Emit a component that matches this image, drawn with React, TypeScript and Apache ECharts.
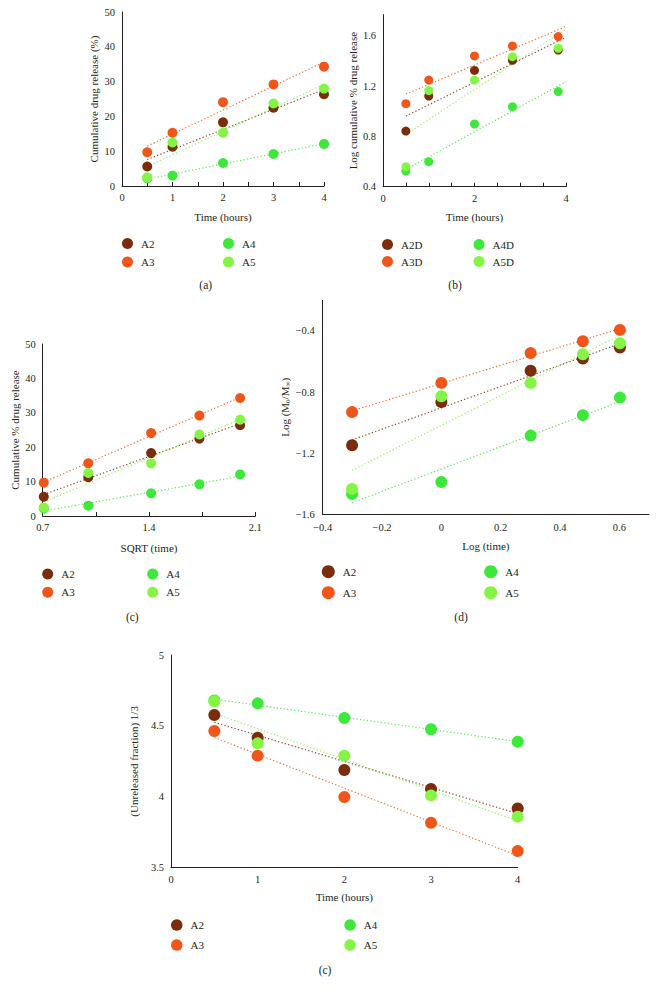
import React, { useEffect, useRef } from "react";
import * as echarts from "echarts";

// ---------- data ----------
const timeHours = [0.5, 1, 2, 3, 4];
const timeHoursB = [0.5, 1, 2, 2.83, 3.83];
const sqrtTime = [0.707, 1, 1.414, 1.732, 2];
const logTime = [-0.301, 0, 0.301, 0.477, 0.602];

// (a) and (c): cumulative % drug release
const cumA2 = [5.6, 11.3, 18.3, 22.5, 26.4];
const cumA3 = [9.7, 15.3, 24.1, 29.2, 34.3];
const cumA4 = [2.2, 3.0, 6.6, 9.2, 12.1];
const cumA5 = [2.5, 12.5, 15.3, 23.7, 28.0];

// (b): log cumulative % drug release
const logA2D = [0.843, 1.122, 1.326, 1.406, 1.488];
const logA3D = [1.061, 1.249, 1.441, 1.52, 1.595];
const logA4D = [0.525, 0.599, 0.899, 1.037, 1.157];
const logA5D = [0.559, 1.165, 1.249, 1.435, 1.502];

// (d): Log(Mt/M∞)
const korA2 = [-1.148, -0.866, -0.66, -0.58, -0.508];
const korA3 = [-0.931, -0.74, -0.545, -0.467, -0.393];
const korA4 = [-1.467, -1.389, -1.085, -0.951, -0.836];
const korA5 = [-1.434, -0.827, -0.74, -0.552, -0.48];

// (e): (Unreleased fraction)^1/3
const hixA2 = [4.577, 4.417, 4.189, 4.055, 3.918];
const hixA3 = [4.464, 4.29, 3.998, 3.817, 3.617];
const hixA4 = [4.68, 4.659, 4.556, 4.476, 4.389];
const hixA5 = [4.673, 4.377, 4.29, 4.01, 3.86];

const namesA = ["A2", "A3", "A4", "A5"];
const namesB = ["A2D", "A3D", "A4D", "A5D"];

// ---------- style ----------
const COLORS = ["#7a2c0c", "#f0561a", "#3de83a", "#84f545"];
const FONT = '"Liberation Serif", "DejaVu Serif", serif';
const TXT = "#231f20";
const TICK_FS = 10.5;

function fitLine(xs: number[], ys: number[], x0: number, x1: number) {
  const n = xs.length;
  const mx = xs.reduce((s, v) => s + v, 0) / n;
  const my = ys.reduce((s, v) => s + v, 0) / n;
  let sxy = 0;
  let sxx = 0;
  for (let i = 0; i < n; i++) {
    sxy += (xs[i] - mx) * (ys[i] - my);
    sxx += (xs[i] - mx) * (xs[i] - mx);
  }
  const b = sxy / sxx;
  const a = my - b * mx;
  return [
    [x0, a + b * x0],
    [x1, a + b * x1],
  ];
}

function panelSeries(
  idx: number,
  xs: number[],
  names: string[],
  sets: number[][],
  size: number,
  range: [number, number]
) {
  const out: any[] = [];
  sets.forEach((ys, i) => {
    out.push({
      type: "line",
      name: names[i] + "_trend_" + idx,
      xAxisIndex: idx,
      yAxisIndex: idx,
      data: fitLine(xs, ys, range[0], range[1]),
      symbol: "none",
      silent: true,
      z: 1,
      lineStyle: { color: COLORS[i], width: 1.2, type: [1.3, 2.2], opacity: 0.85 },
    });
  });
  sets.forEach((ys, i) => {
    out.push({
      type: "scatter",
      name: names[i],
      xAxisIndex: idx,
      yAxisIndex: idx,
      data: xs.map((x, j) => [x, ys[j]]),
      symbol: "circle",
      symbolSize: size,
      z: 3 + i,
      itemStyle: { color: COLORS[i], opacity: 1 },
    });
  });
  return out;
}

const minus = (s: string) => s.replace("-", "\u2212");

function xAxisBase(idx: number, o: any) {
  return {
    type: "value",
    gridIndex: idx,
    nameLocation: "middle",
    nameTextStyle: { fontFamily: FONT, fontSize: 11, color: TXT },
    axisLine: { show: true, onZero: false, lineStyle: { color: TXT, width: 1 } },
    axisTick: { show: false },
    splitLine: { show: false },
    axisLabel: { fontFamily: FONT, fontSize: TICK_FS, color: TXT, margin: 6 },
    ...o,
  };
}
function yAxisBase(idx: number, o: any) {
  return {
    type: "value",
    gridIndex: idx,
    nameLocation: "middle",
    nameTextStyle: { fontFamily: FONT, fontSize: 11, color: TXT },
    axisLine: { show: true, onZero: false, lineStyle: { color: TXT, width: 1 } },
    axisTick: { show: false },
    splitLine: { show: false },
    axisLabel: { fontFamily: FONT, fontSize: TICK_FS, color: TXT, margin: 7 },
    ...o,
  };
}

function legendPair(
  data: string[],
  left: number,
  top: number,
  size: number,
  gap: number
) {
  return {
    orient: "vertical",
    left,
    top,
    padding: 0,
    icon: "circle",
    itemWidth: size,
    itemHeight: size,
    itemGap: gap,
    selectedMode: false,
    data,
    textStyle: { fontFamily: FONT, fontSize: 11, color: TXT, padding: [0, 0, 0, 3] },
  };
}

function panelLabel(text: string, x: number, y: number) {
  return {
    type: "text",
    x,
    y,
    style: {
      text,
      fontFamily: FONT,
      fontSize: 11.5,
      fill: TXT,
      align: "center",
      verticalAlign: "middle",
    },
  };
}

export default function App() {
  const ref = useRef<HTMLDivElement>(null);
  useEffect(() => {
    if (!ref.current) return;
    const chart = echarts.init(ref.current, null, { renderer: "svg" });
    const tickInside = { show: true, inside: true, length: 4, lineStyle: { color: TXT } };
    const option: any = {
      animation: false,
      backgroundColor: "#ffffff",
      grid: [
        { left: 122, top: 12, width: 202, height: 174 },
        { left: 383, top: 14.6, width: 183, height: 172.1 },
        { left: 42.7, top: 344, width: 212.6, height: 172 },
        { left: 322.7, top: 300.4, width: 326.3, height: 213.9 },
        { left: 171, top: 655, width: 346.7, height: 212.7 },
      ],
      xAxis: [
        xAxisBase(0, {
          min: 0, max: 4, interval: 1, name: "Time (hours)", nameGap: 25,
          axisTick: tickInside,
          minorTick: { show: true, splitNumber: 2, length: 4, lineStyle: { color: TXT } },
        }),
        xAxisBase(1, {
          min: 0, max: 4, interval: 2, name: "Time (hours)", nameGap: 25,
          axisTick: tickInside,
          minorTick: { show: true, splitNumber: 4, length: 4, lineStyle: { color: TXT } },
        }),
        xAxisBase(2, {
          min: 0.7, max: 2.1, interval: 0.7, name: "SQRT (time)", nameGap: 26,
          axisTick: tickInside,
          minorTick: { show: true, splitNumber: 2, length: 4, lineStyle: { color: TXT } },
          axisLabel: {
            fontFamily: FONT, fontSize: TICK_FS, color: TXT, margin: 6,
            formatter: (v: number) => v.toFixed(1),
          },
        }),
        xAxisBase(3, {
          min: -0.4, max: 0.7, interval: 0.2, name: "Log (time)", nameGap: 26,
          axisLabel: {
            fontFamily: FONT, fontSize: TICK_FS, color: TXT, margin: 8, showMaxLabel: false,
            formatter: (v: number) => (Math.abs(v) < 1e-9 ? "0" : minus(v.toFixed(1))),
          },
        }),
        xAxisBase(4, {
          min: 0, max: 4, interval: 1, name: "Time (hours)", nameGap: 24,
        }),
      ],
      yAxis: [
        yAxisBase(0, {
          min: 0, max: 50, interval: 10, name: "Cumulative drug release (%)", nameGap: 23,
        }),
        yAxisBase(1, {
          min: 0.4, max: 1.77, interval: 0.4, name: "Log cumulative % drug release", nameGap: 25,
          axisLabel: {
            fontFamily: FONT, fontSize: TICK_FS, color: TXT, margin: 7, showMaxLabel: false,
            formatter: (v: number) => v.toFixed(1),
          },
        }),
        yAxisBase(2, {
          min: 0, max: 50, interval: 10, name: "Cumulative % drug release", nameGap: 22,
        }),
        yAxisBase(3, {
          min: -1.6, max: -0.2, interval: 0.4, name: "Log (M{s|0}/M{s|\u221e})", nameGap: 31,
          nameTextStyle: {
            fontFamily: FONT, fontSize: 11, color: TXT,
            rich: { s: { fontFamily: FONT, fontSize: 7, color: TXT, verticalAlign: "bottom", padding: [6, 0, 0, 0] } },
          },
          axisLabel: {
            fontFamily: FONT, fontSize: TICK_FS, color: TXT, margin: 8, showMaxLabel: false,
            formatter: (v: number) => minus(v.toFixed(1)),
          },
        }),
        yAxisBase(4, {
          min: 3.5, max: 5, interval: 0.5, name: "(Unreleased fraction) 1/3", nameGap: 27,
        }),
      ],
      legend: [
        legendPair([namesA[0], namesA[1]], 122, 238, 11, 7.4),
        legendPair([namesA[2], namesA[3]], 223, 238, 11, 7.4),
        legendPair([namesB[0], namesB[1]], 382, 239, 11, 6),
        legendPair([namesB[2], namesB[3]], 473.5, 239, 11, 6),
        legendPair([namesA[0], namesA[1]], 42.2, 568.5, 11, 7.3),
        legendPair([namesA[2], namesA[3]], 147.2, 568.5, 11, 7.3),
        legendPair([namesA[0], namesA[1]], 321.8, 565.2, 13, 8),
        legendPair([namesA[2], namesA[3]], 484.2, 565.2, 13, 8),
        legendPair([namesA[0], namesA[1]], 171, 919.3, 11.5, 8.5),
        legendPair([namesA[2], namesA[3]], 344.3, 919.3, 11.5, 8.5),
      ],
      graphic: [
        panelLabel("(a)", 205.7, 285),
        panelLabel("(b)", 455, 285),
        panelLabel("(c)", 132.3, 616.7),
        panelLabel("(d)", 461, 616.7),
        panelLabel("(c)", 325, 970),
      ],
      series: [
        ...panelSeries(0, timeHours, namesA, [cumA2, cumA3, cumA4, cumA5], 10, [0.5, 4]),
        ...panelSeries(1, timeHoursB, namesB, [logA2D, logA3D, logA4D, logA5D], 9, [0.5, 4]),
        ...panelSeries(2, sqrtTime, namesA, [cumA2, cumA3, cumA4, cumA5], 10, [0.707, 2]),
        ...panelSeries(3, logTime, namesA, [korA2, korA3, korA4, korA5], 12, [-0.301, 0.602]),
        ...panelSeries(4, timeHours, namesA, [hixA2, hixA3, hixA4, hixA5], 12, [0.5, 4]),
      ],
    };
    chart.setOption(option);
    return () => chart.dispose();
  }, []);
  return (
    <div
      ref={ref}
      style={{ position: "absolute", left: 0, top: 0, width: 656, height: 996, background: "#fff" }}
    />
  );
}
